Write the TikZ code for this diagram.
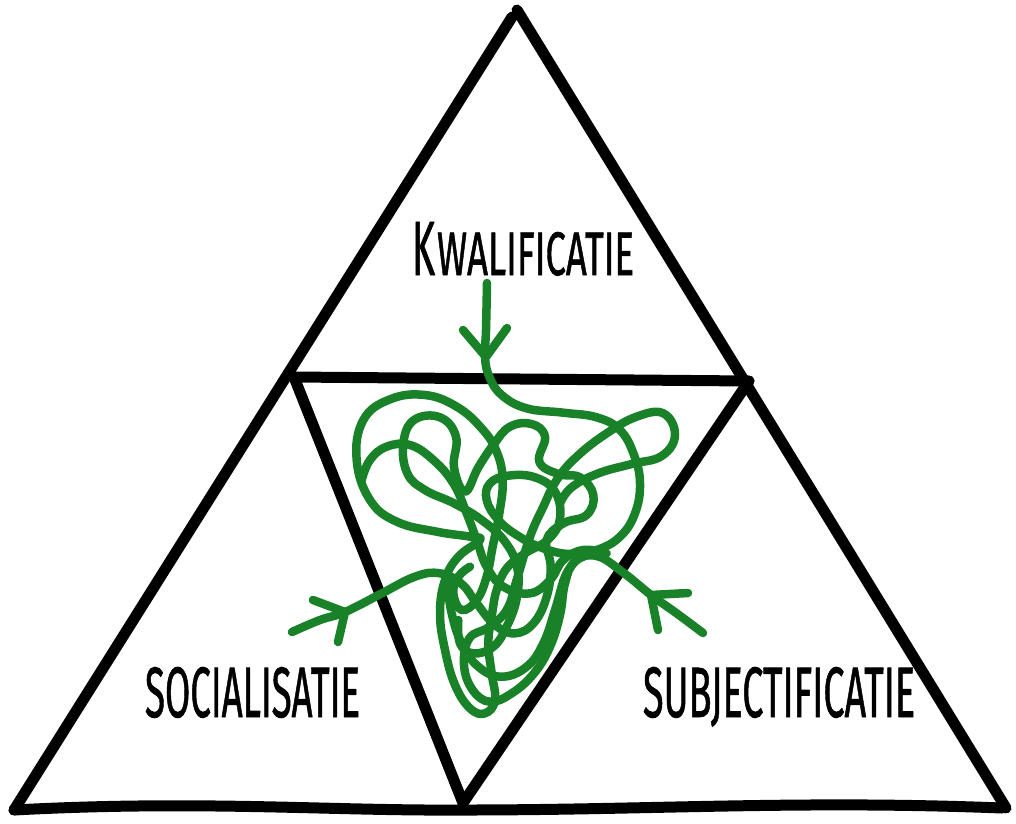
\documentclass[tikz,border=0pt]{standalone}
\usepackage{fontspec}
\usepackage{graphicx}
\setmainfont{Fira Sans}
\newfontfamily\lblfont{Fira Sans}[FakeBold=1.2]
\definecolor{tanglegreen}{RGB}{25,130,40}
\begin{document}
\begin{tikzpicture}[x=1pt,y=-1pt,line cap=round,line join=round,
  trisides/.style={line width=11pt,black},
  tangled/.style={tanglegreen,line width=8.5pt},
  chev/.style={tanglegreen,line width=8.5pt},
  lbl/.style={inner sep=0pt,outer sep=0pt,anchor=base west,font=\lblfont}]
\useasboundingbox (0,0) rectangle (1016,823);
% corner coordinates
\coordinate (T1) at (512,17);
\coordinate (T2) at (517,10);
\coordinate (BL) at (14,810);
\coordinate (BR) at (1006,808);
\coordinate (BR2) at (1002,808);
\coordinate (IL) at (294,377);
\coordinate (IR) at (749,381);
\coordinate (IB) at (463,803);
\coordinate (IBm) at (463,810);
% outer triangle
\draw[trisides] (T1) -- (BL);
\draw[trisides] (T2) -- (BR);
\draw[trisides] (BL) .. controls (200,800) and (330,811) .. (IBm) .. controls (650,810) and (800,800) .. (BR2);
% inner triangle
\draw[trisides] (IL) -- (IR);
\draw[trisides] (IL) -- (IB);
\draw[trisides] (IR) -- (IB);
% labels
\node[lbl] (kw) at (412,275) {\resizebox{23pt}{53pt}{K}\hspace{2pt}\resizebox{197pt}{43pt}{WALIFICATIE}};
\node[lbl] (soc) at (145,717) {\resizebox{215pt}{50pt}{SOCIALISATIE}};
\node[lbl] (sub) at (643,717) {\resizebox{272pt}{50pt}{SUBJECTIFICATIE}};
% tangle
\begin{scope}[shift={(330,380)},x=0.33333pt,y=-0.33333pt]
\draw[tangled] plot[smooth,tension=0.7] coordinates {
(471,-291) (468,-150) (465,-69) (478,-10) (515,45) (590,85) (700,98) (800,112) (870,150) (912,225) (930,310) (915,400) (870,470) (800,510) (720,522) (640,505) (565,468) (505,420) (470,360) (480,310) (535,287) (615,292) (675,335) (690,415) (655,478) (585,520) (530,565) (500,630) (485,710) (475,790) (485,880) (495,960) (465,1000) (420,985) (375,915) (345,810) (330,700) (345,600) (385,530) (450,480) (420,470) (320,455) (200,425) (120,360) (80,240) (100,120) (180,58) (285,45) (380,80) (455,145) (500,215) (518,300) (508,400) (488,500) (470,590) (440,660) (395,690) (370,640) (385,590) (420,560)};
\draw[tangled] plot[smooth,tension=0.7] coordinates {
(-114,756) (-30,720) (45,696) (150,643) (255,590) (330,580) (395,612) (440,670) (495,735) (555,760) (612,728) (650,650) (662,560) (650,480) (700,430) (770,405) (790,345) (750,292) (685,282) (628,245) (645,170) (605,132) (540,140) (492,192) (445,262) (405,335) (372,262) (378,170) (330,112) (252,120) (220,190) (232,280) (285,330) (372,370) (455,420) (525,485) (562,565) (560,655) (530,740) (490,800) (430,820) (390,790) (385,720)};
\draw[tangled] plot[smooth,tension=0.7] coordinates {
(1119,759) (1040,700) (963,645) (880,578) (800,528) (735,545) (705,610) (690,705) (660,800) (612,880) (545,940) (480,965) (428,930) (402,855) (418,775) (475,742) (530,690) (560,600) (600,470) (640,380) (680,300) (740,230) (830,160) (920,110) (1000,100) (1035,165) (995,228) (905,252) (805,280) (725,322) (690,370)};
\draw[tangled] plot[smooth,tension=0.7] coordinates {
(95,300) (120,240) (170,200) (240,195) (310,240) (370,310) (410,400) (440,480) (470,560) (520,620) (600,640) (660,600) (700,540) (760,510) (830,520)};
\draw[tangled] plot[smooth,tension=0.7] coordinates {
(350,600) (365,700) (395,790) (445,860) (515,890) (590,860) (640,790) (675,690) (705,590) (735,545)};
\end{scope}
% arrow chevrons
\coordinate (ta) at (463,330); \coordinate (tt) at (486,357); \coordinate (tb) at (507,328);
\coordinate (la) at (313,600); \coordinate (lt) at (345,612); \coordinate (lb) at (338,642);
\coordinate (ra) at (688,593); \coordinate (rt) at (651,595); \coordinate (rb) at (658,630);
\draw[chev] (ta) -- (tt) -- (tb);
\draw[chev] (la) -- (lt) -- (lb);
\draw[chev] (ra) -- (rt) -- (rb);
\end{tikzpicture}
\end{document}
